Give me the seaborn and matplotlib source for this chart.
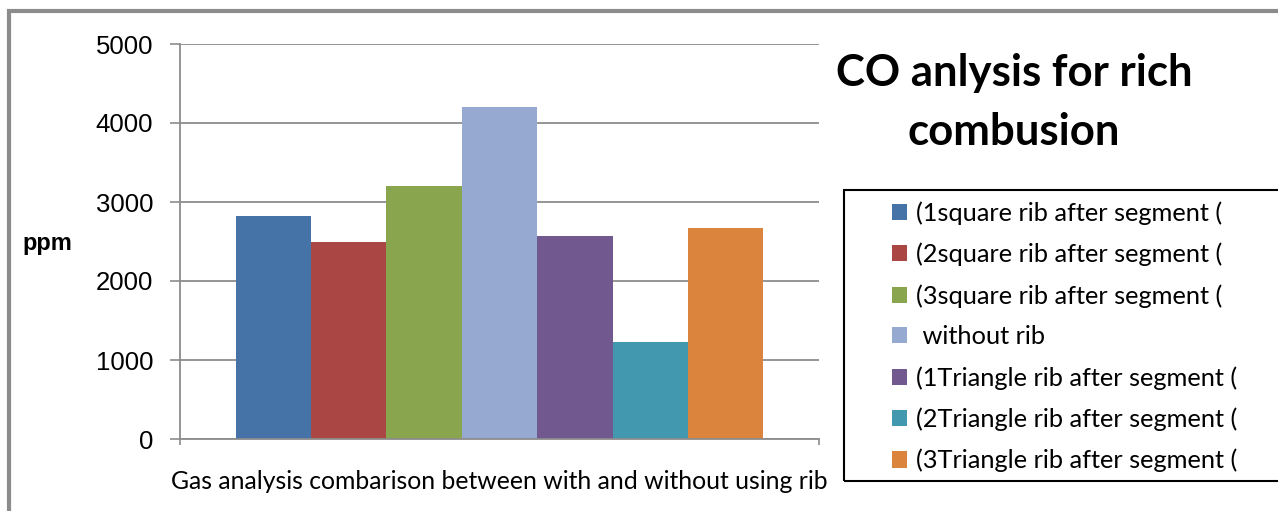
import matplotlib
matplotlib.use("Agg")
import matplotlib.pyplot as plt
import seaborn as sns
import pandas as pd
from matplotlib.patches import Rectangle
from matplotlib.ticker import FixedLocator

category = ["Gas analysis combarison between with and without using rib"]
series = ["(1square rib after segment (", "(2square rib after segment (",
          "(3square rib after segment (", " without rib",
          "(1Triangle rib after segment (", "(2Triangle rib after segment (",
          "(3Triangle rib after segment ("]
values = [2820, 2495, 3200, 4205, 2570, 1228, 2672]
colors = ["#4572A7", "#AA4643", "#89A54E", "#95A9D1", "#71588F", "#4198AF", "#DB843D"]
yticks = [0, 1000, 2000, 3000, 4000, 5000]
title = "CO anlysis for rich\ncombusion"
ylabel = "ppm"

df = pd.DataFrame({"group": category * len(series), "series": series, "ppm": values})

sns.set_style("white")
plt.rcParams["font.family"] = ["Liberation Sans", "DejaVu Sans"]
plt.rcParams["text.color"] = "black"
plt.rcParams["xtick.labelcolor"] = "black"
plt.rcParams["ytick.labelcolor"] = "black"

W, H = 1278, 511
fig = plt.figure(figsize=(W / 100, H / 100), dpi=100)
ax = fig.add_axes([180 / W, 1 - 439 / H, (819 - 180) / W, (439 - 44) / H])

sns.barplot(data=df, x="group", y="ppm", hue="series", hue_order=series,
            palette=colors, saturation=1, width=0.826, ax=ax, legend=True,
            edgecolor="none", linewidth=0)

GRAY = "#8c8c8c"
ax.set_xlim(-0.5, 0.5)
ax.set_ylim(0, 5000)
ax.set_yticks(yticks)
ax.set_yticklabels([str(v) for v in yticks], fontsize=18.5, color="black")
ax.yaxis.grid(True, color=GRAY, linewidth=1.3)
ax.set_axisbelow(True)
ax.tick_params(axis="y", direction="out", length=7.2, width=1.2, color=GRAY,
               pad=12, left=True)
ax.tick_params(axis="x", length=0, pad=22)
for lbl in ax.get_xticklabels():
    lbl.set_fontfamily(["Lato", "DejaVu Sans"])
    lbl.set_fontsize(17.8)
    lbl.set_color("black")
ax.xaxis.set_minor_locator(FixedLocator([-0.5, 0.5]))
ax.tick_params(axis="x", which="minor", direction="out", length=4, width=1.2,
               color=GRAY, bottom=True)
ax.set_xlabel("")
ax.set_ylabel("")
for s in ["top", "right"]:
    ax.spines[s].set_visible(False)
for s in ["left", "bottom"]:
    ax.spines[s].set_color(GRAY)
    ax.spines[s].set_linewidth(1.3)

fig.text(22 / W, 1 - 243 / H, ylabel, fontsize=17, fontweight="bold",
         ha="left", va="center", color="black")

fig.text(1014 / W, 1 - 102.5 / H, title, fontsize=31.5, fontweight="bold",
         ha="center", va="center", linespacing=1.58, color="black",
         family=["Lato", "DejaVu Sans"])

handles, labels = ax.get_legend_handles_labels()
ax.get_legend().remove()
leg = fig.legend(handles, labels, loc="upper left",
                 bbox_to_anchor=(882 / W, 1 - 191 / H), frameon=False,
                 prop={"family": ["Lato", "DejaVu Sans"], "size": 18.3},
                 handlelength=0.6, handleheight=0.6, handletextpad=0.33,
                 labelspacing=0.70, borderaxespad=0, labelcolor="black")

# legend box (right edge clipped by figure)
fig.patches.append(Rectangle((844 / W, 1 - 481 / H), (1300 - 844) / W, (481 - 190) / H,
                             transform=fig.transFigure, fill=False,
                             edgecolor="black", linewidth=1.5))
# outer chart border (right and bottom clipped)
fig.patches.append(Rectangle((8.5 / W, -0.1), 1.2, 1 - 11.5 / H + 0.1,
                             transform=fig.transFigure, fill=False,
                             edgecolor=GRAY, linewidth=3))

fig.savefig("out.png", dpi=100)
